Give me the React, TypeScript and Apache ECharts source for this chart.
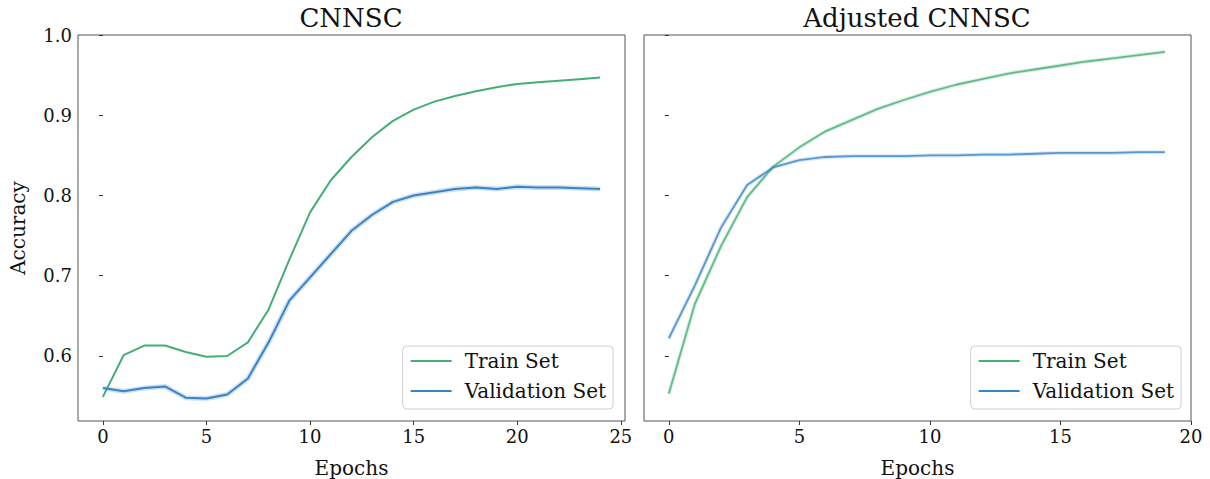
import React, { useEffect, useRef } from "react";
import * as echarts from "echarts";

const leftEpochs = [0, 1, 2, 3, 4, 5, 6, 7, 8, 9, 10, 11, 12, 13, 14, 15, 16, 17, 18, 19, 20, 21, 22, 23, 24];
const leftTrain = [0.549, 0.601, 0.613, 0.613, 0.605, 0.599, 0.600, 0.617, 0.658, 0.720, 0.779, 0.819, 0.848, 0.873, 0.893, 0.907, 0.917, 0.924, 0.930, 0.935, 0.939, 0.941, 0.943, 0.945, 0.947];
const leftVal = [0.560, 0.556, 0.560, 0.562, 0.548, 0.547, 0.552, 0.572, 0.617, 0.669, 0.698, 0.727, 0.756, 0.776, 0.792, 0.800, 0.804, 0.808, 0.810, 0.808, 0.811, 0.810, 0.810, 0.809, 0.808];

const rightEpochs = [0, 1, 2, 3, 4, 5, 6, 7, 8, 9, 10, 11, 12, 13, 14, 15, 16, 17, 18, 19];
const rightTrain = [0.553, 0.665, 0.737, 0.798, 0.836, 0.860, 0.880, 0.894, 0.908, 0.919, 0.929, 0.938, 0.945, 0.952, 0.957, 0.962, 0.967, 0.971, 0.975, 0.979];
const rightVal = [0.622, 0.688, 0.760, 0.813, 0.835, 0.844, 0.848, 0.849, 0.849, 0.849, 0.850, 0.850, 0.851, 0.851, 0.852, 0.853, 0.853, 0.853, 0.854, 0.854];

const leftXTicks = [0, 5, 10, 15, 20, 25];
const rightXTicks = [0, 5, 10, 15, 20];
const yTicks = [0.6, 0.7, 0.8, 0.9, 1.0];

const titles = ["CNNSC", "Adjusted CNNSC"];
const seriesNames = ["Train Set", "Validation Set"];

const FONT = "DejaVu Serif";
const GREEN = "#45ad76";
const BLUE = "#3a84c5";

const pairs = (xs: number[], ys: number[]) => xs.map((x, i) => [x, ys[i]]);

export default function App() {
  const ref = useRef<HTMLDivElement>(null);
  useEffect(() => {
    const chart = echarts.init(ref.current!, null, { renderer: "svg" });
    const xAxisCommon = (gridIndex: number, min: number, max: number, ticks: number[]) => ({
      type: "value",
      gridIndex,
      min,
      max,
      name: "Epochs",
      nameLocation: "middle",
      nameGap: 37,
      nameTextStyle: { fontFamily: FONT, fontSize: 20, color: "#111" },
      axisLine: { show: false },
      splitLine: { show: false },
      axisTick: { show: true, length: 4, customValues: ticks, lineStyle: { color: "#333" } },
      axisLabel: {
        customValues: ticks,
        margin: 6,
        fontFamily: FONT,
        fontSize: 18,
        color: "#111",
        formatter: (v: number) => String(v),
      },
    });
    const yAxisCommon = (gridIndex: number, showLabels: boolean) => ({
      type: "value",
      gridIndex,
      min: 0.519,
      max: 1.0,
      name: showLabels ? "Accuracy" : "",
      nameLocation: "middle",
      nameRotate: 90,
      nameGap: 50,
      nameTextStyle: { fontFamily: FONT, fontSize: 20, color: "#111" },
      axisLine: { show: false },
      splitLine: { show: false },
      axisTick: { show: true, length: 4, customValues: yTicks, lineStyle: { color: "#333" } },
      axisLabel: {
        show: showLabels,
        customValues: yTicks,
        margin: 6,
        fontFamily: FONT,
        fontSize: 18,
        color: "#111",
        formatter: (v: number) => v.toFixed(1),
      },
    });
    const line = (name: string, color: string, xi: number, data: number[][], width: number, opacity = 1) => ({
      type: "line",
      name,
      xAxisIndex: xi,
      yAxisIndex: xi,
      data,
      symbol: "none",
      lineStyle: { color, width, opacity },
      itemStyle: { color },
      z: 3,
    });
    const band = (color: string, xi: number, data: number[][], width: number) => ({
      type: "line",
      name: "band",
      xAxisIndex: xi,
      yAxisIndex: xi,
      data,
      symbol: "none",
      silent: true,
      lineStyle: { color, width },
      z: 2,
    });
    const legendCommon = (right: number) => ({
      data: seriesNames,
      orient: "vertical",
      right,
      top: 346,
      icon: "rect",
      itemWidth: 41,
      itemHeight: 2,
      itemGap: 6,
      padding: [3, 7, 6, 8],
      borderColor: "#d0d0d0",
      borderWidth: 1,
      borderRadius: 4,
      backgroundColor: "#fff",
      textStyle: { fontFamily: FONT, fontSize: 20, color: "#111", padding: [0, 0, 0, 8], lineHeight: 24 },
    });
    chart.setOption({
      animation: false,
      backgroundColor: "#fff",
      title: [
        { text: titles[0], left: 351, textAlign: "center", top: 5, padding: 0, textStyle: { fontFamily: FONT, fontSize: 26, fontWeight: "normal", color: "#111" } },
        { text: titles[1], left: 917, textAlign: "center", top: 5, padding: 0, textStyle: { fontFamily: FONT, fontSize: 26, fontWeight: "normal", color: "#111" } },
      ],
      grid: [
        { left: 78, top: 35, width: 547, height: 386, show: true, borderColor: "#555", borderWidth: 1, backgroundColor: "transparent", containLabel: false, outerBoundsMode: "none" },
        { left: 644, top: 35, width: 547, height: 386, show: true, borderColor: "#555", borderWidth: 1, backgroundColor: "transparent", containLabel: false, outerBoundsMode: "none" },
      ],
      xAxis: [xAxisCommon(0, -1.2, 25.2, leftXTicks), xAxisCommon(1, -0.95, 20, rightXTicks)],
      yAxis: [yAxisCommon(0, true), yAxisCommon(1, false)],
      legend: [legendCommon(1210 - 613), legendCommon(1210 - 1181)],
      series: [
        band("rgba(58,132,197,0.25)", 0, pairs(leftEpochs, leftVal), 5),
        line(seriesNames[0], GREEN, 0, pairs(leftEpochs, leftTrain), 2),
        line(seriesNames[1], BLUE, 0, pairs(leftEpochs, leftVal), 2),
        band("rgba(69,173,118,0.2)", 1, pairs(rightEpochs, rightTrain), 4),
        band("rgba(58,132,197,0.2)", 1, pairs(rightEpochs, rightVal), 4),
        line(seriesNames[0], GREEN, 1, pairs(rightEpochs, rightTrain), 1.8, 0.8),
        line(seriesNames[1], BLUE, 1, pairs(rightEpochs, rightVal), 1.8, 0.8),
      ],
    });
    return () => chart.dispose();
  }, []);
  return <div ref={ref} style={{ position: "absolute", left: 0, top: 0, width: 1210, height: 479 }} />;
}
